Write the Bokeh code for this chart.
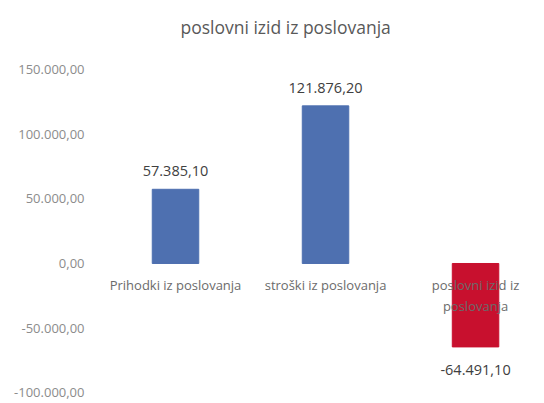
from bokeh.plotting import figure
from bokeh.models import ColumnDataSource, FixedTicker, Range1d
from bokeh.core.properties import value
from bokeh.embed import file_html
from bokeh.resources import INLINE

categories = ["Prihodki iz poslovanja", "stroški iz poslovanja", "poslovni izid iz poslovanja"]
category_labels = ["Prihodki iz poslovanja", "stroški iz poslovanja", "poslovni izid iz\nposlovanja"]
values = [57385.10, 121876.20, -64491.10]
value_labels = ["57.385,10", "121.876,20", "-64.491,10"]
bar_colors = ["#4e70b0", "#4e70b0", "#c8102e"]
tick_values = [150000, 100000, 50000, 0, -50000, -100000]
tick_labels = ["150.000,00", "100.000,00", "50.000,00", "0,00", "-50.000,00", "-100.000,00"]
title_text = "poslovni izid iz poslovanja"

xs = list(range(len(categories)))
pos = [v >= 0 for v in values]

src = ColumnDataSource(dict(
    x=xs, top=values, color=bar_colors, cat=category_labels, lab=value_labels,
    lab_y=values,
    lab_off=[-13 if p else 18 for p in pos],
    lab_base=["bottom" if p else "top" for p in pos],
))

p = figure(width=540, height=402, output_backend="svg", toolbar_location=None,
           x_range=Range1d(-0.5, 2.433), y_range=Range1d(-107475, 173970),
           min_border_left=100, min_border_right=0, min_border_bottom=0, min_border_top=38)

p.title.text = title_text
p.title.align = "left"
p.title.offset = 80
p.title.text_font = "Open Sans"
p.title.text_font_size = "17.5px"
p.title.text_font_style = "normal"
p.title.text_color = "#595959"
p.title.standoff = 0

p.outline_line_color = None
p.xgrid.visible = False
p.ygrid.visible = False
p.xaxis.visible = False

ya = p.yaxis[0]
ya.ticker = FixedTicker(ticks=tick_values)
ya.major_label_overrides = {t: l for t, l in zip(tick_values, tick_labels)}
ya.axis_line_color = None
ya.major_tick_line_color = None
ya.minor_tick_line_color = None
ya.major_label_text_font = "Open Sans"
ya.major_label_text_font_size = "13px"
ya.major_label_text_color = "#8c8c8c"
ya.major_label_standoff = 10

p.vbar(x="x", top="top", bottom=0, width=0.31, color="color", source=src)

p.text(x="x", y="lab_y", text="lab", y_offset="lab_off", source=src,
       text_align="center", text_baseline="lab_base",
       text_font=value("Open Sans"), text_font_size="14.5px", text_color="#404040")

p.text(x="x", y=0, text="cat", y_offset=13, source=src,
       text_align="center", text_baseline="top", text_line_height=1.15,
       text_font=value("Open Sans"), text_font_size="13px", text_color="#6b6b6b")

open("out.html", "w").write(file_html(p, INLINE))
